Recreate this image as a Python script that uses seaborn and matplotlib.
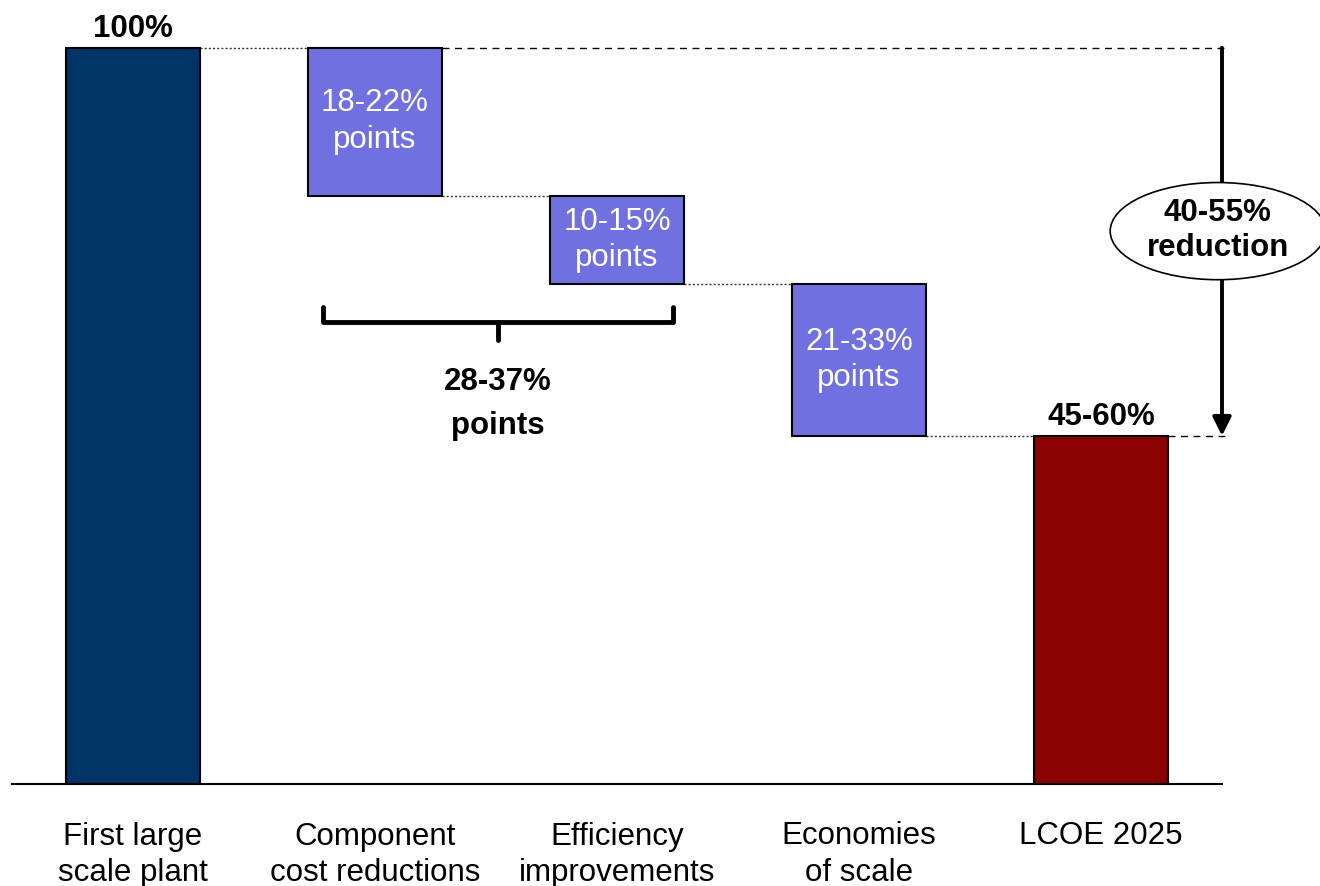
import numpy as np
import pandas as pd
import seaborn as sns
import matplotlib.pyplot as plt
from matplotlib.patches import Ellipse

# data (percent of first-plant LCOE)
steps = ["First large\nscale plant", "Component\ncost reductions",
         "Efficiency\nimprovements", "Economies\nof scale", "LCOE 2025"]
heights = [100, 20.1, 12.0, 20.6, 47.3]
bar_colors = ["#003366", "#7070E0", "#7070E0", "#7070E0", "#8B0000"]
inside_labels = ["", "18-22%\npoints", "10-15%\npoints", "21-33%\npoints", ""]
top_labels = ["100%", "", "", "", "45-60%"]
bracket_label = "28-37%\npoints"
total_label = "40-55%\nreduction"

# waterfall: the middle steps hang down from the running level
bottoms = [0]
level = heights[0]
for h in heights[1:-1]:
    level -= h
    bottoms.append(level)
bottoms.append(0)
join_levels = [heights[0]] + bottoms[1:4]

df = pd.DataFrame({"step": steps, "height": heights})

sns.set_style("white")
plt.rcParams["font.family"] = ["Liberation Sans", "DejaVu Sans"]
plt.rcParams["text.color"] = "black"
fs = 22.5
bw = 0.555

fig = plt.figure(figsize=(13.2, 8.86), dpi=100)
ax = fig.add_axes([12 / 1320, 102 / 886, 1210 / 1320, 773 / 886])

sns.barplot(data=df, x="step", y="height", order=steps, bottom=bottoms,
            width=bw, color=bar_colors[1], edgecolor="black", linewidth=1.5,
            errorbar=None, ax=ax)
for p, c in zip(ax.patches, bar_colors):
    p.set_facecolor(c)

# dotted connectors between neighbouring bars
for i in range(4):
    ax.plot([i + bw / 2, i + 1 - bw / 2], [join_levels[i], join_levels[i]],
            color="#333333", lw=1, ls=(0, (1.5, 1.5)))
# dashed guides out to the total arrow
ax.plot([1 + bw / 2, 4.53], [heights[0], heights[0]], color="black", lw=1,
        ls=(0, (5, 4)), clip_on=False)
ax.plot([4 + bw / 2, 4.53], [heights[4], heights[4]], color="black", lw=1,
        ls=(0, (5, 4)), clip_on=False)

# labels
for i in range(5):
    if inside_labels[i]:
        ax.text(i, bottoms[i] + heights[i] / 2, inside_labels[i], color="white",
                fontsize=fs, ha="center", va="center", linespacing=1.3)
    if top_labels[i]:
        ax.text(i, bottoms[i] + heights[i] + 0.5, top_labels[i], color="black",
                fontsize=fs, fontweight="bold", ha="center", va="bottom")

# bracket under first two reductions
bx0, bx1 = 1 - bw / 2 + 0.063, 2 + bw / 2 - 0.046
bxm = (bx0 + bx1) / 2
ax.plot([bx0, bx0, bx1, bx1], [64.8, 62.8, 62.8, 64.8], color="black", lw=3.5,
        solid_joinstyle="round", solid_capstyle="round")
ax.plot([bxm, bxm], [62.8, 60.3], color="black", lw=3.5, solid_capstyle="round")
ax.text(bxm, 51.6, bracket_label, fontsize=fs, fontweight="bold",
        ha="center", va="center", linespacing=1.6)

# total reduction arrow + ellipse
ax.annotate("", xy=(4.5, heights[4]), xytext=(4.5, heights[0]),
            arrowprops=dict(arrowstyle="-|>", lw=2.8, color="black",
                            mutation_scale=28, shrinkA=0, shrinkB=0),
            annotation_clip=False)
ax.add_patch(Ellipse((4.483, 75.1), width=0.89, height=13.2, facecolor="white",
                     edgecolor="black", lw=1.2, clip_on=False, zorder=5))
ax.text(4.483, 75.2, total_label, fontsize=fs, fontweight="bold", ha="center",
        va="center", linespacing=1.2, zorder=6)

ax.set_xlim(-0.5, 4.5)
ax.set_ylim(0, 105)
ax.set_xlabel("")
ax.set_ylabel("")
ax.set_yticks([])
ax.tick_params(axis="x", length=0, pad=27, labelsize=fs, colors="black")
for lbl in ax.get_xticklabels():
    lbl.set_linespacing(1.3)
sns.despine(ax=ax, left=True)
ax.spines["bottom"].set_linewidth(1.5)
ax.spines["bottom"].set_color("black")

fig.savefig("out.png", dpi=100)
